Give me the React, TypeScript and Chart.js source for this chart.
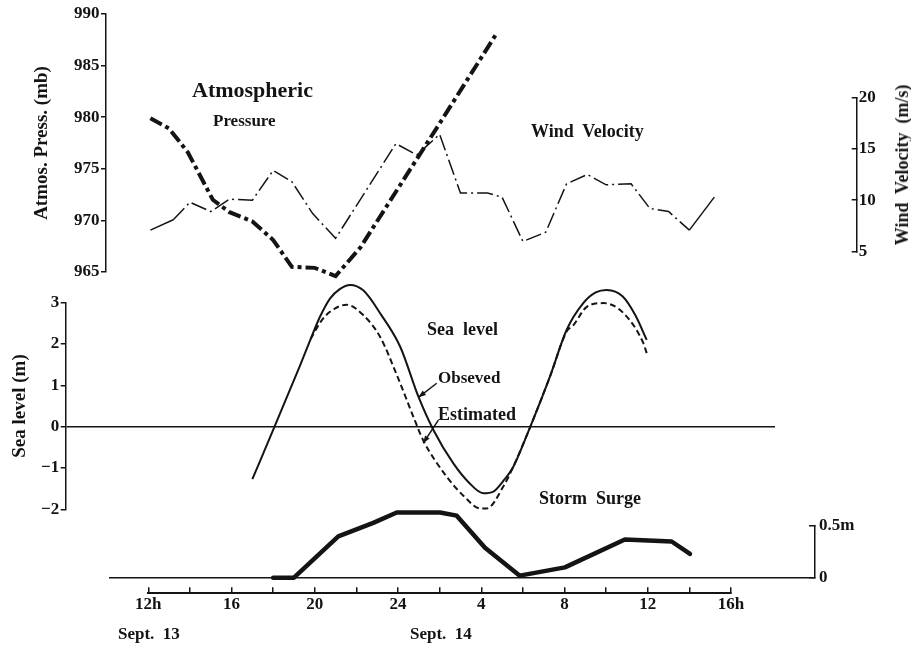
import React, { useEffect, useRef } from 'react';
import { Chart, registerables } from 'chart.js';

Chart.register(...registerables);

// ---------------- data (hours counted from Sept. 13, 00h) ----------------
const pressureHours = [12.1, 13.0, 13.9, 15.1, 15.9, 17.0, 18.0, 18.9, 20.0, 21.0, 22.2, 24.0, 26.0, 28.7];
const pressureMb = [979.9, 978.9, 976.6, 972.0, 970.8, 969.9, 968.1, 965.5, 965.4, 964.6, 967.4, 973.1, 979.4, 988.0];

const windHours = [12.1, 13.2, 14.0, 15.0, 15.9, 17.0, 18.0, 18.9, 19.9, 21.0, 23.9, 24.9, 26.0, 27.0, 28.3, 29.0, 30.0, 31.1, 32.1, 33.1, 34.0, 35.2, 36.1, 37.0, 38.0, 39.2];
const windMs = [7.1, 8.1, 9.8, 8.9, 10.1, 10.0, 12.9, 11.8, 8.7, 6.3, 15.5, 14.4, 16.4, 10.7, 10.7, 10.3, 6.0, 6.9, 11.6, 12.5, 11.5, 11.6, 9.2, 8.9, 7.1, 10.3];

const observedHours = [17.0, 18.0, 19.3, 19.8, 20.25, 20.73, 21.2, 21.7, 22.33, 23.2, 24.1, 25.0, 25.7, 26.66, 27.4, 28.1, 28.58, 29.05, 29.54, 30.26, 31.3, 32.1, 32.9, 33.5, 34.03, 34.8, 35.4, 35.95];
const observedM = [-1.27, -0.08, 1.49, 2.12, 2.66, 3.1, 3.33, 3.43, 3.3, 2.7, 1.94, 0.7, -0.08, -0.89, -1.35, -1.61, -1.57, -1.32, -0.97, -0.12, 1.21, 2.34, 2.99, 3.25, 3.31, 3.15, 2.7, 2.1];

const estimatedHours = [19.8, 20.3, 20.73, 21.53, 22.33, 23.13, 24.0, 24.73, 25.21, 26.34, 27.2, 27.94, 28.26, 29.06, 29.54, 30.26, 31.3, 32.1, 32.42, 33.07, 33.87, 34.83, 35.79, 35.95];
const estimatedM = [2.12, 2.55, 2.78, 2.95, 2.7, 2.18, 1.18, 0.25, -0.33, -1.21, -1.7, -1.98, -1.98, -1.45, -0.97, -0.12, 1.21, 2.3, 2.45, 2.9, 2.99, 2.75, 2.02, 1.78];

const surgeHours = [18.0, 19.0, 21.13, 22.81, 23.94, 26.02, 26.82, 28.18, 29.85, 32.02, 34.9, 37.15, 38.03];
const surgeM = [0, 0, 0.4, 0.53, 0.63, 0.63, 0.6, 0.29, 0.02, 0.1, 0.37, 0.35, 0.23];

// pointer arrows (from label to curve), in hours / metres
const arrowFromHours = [25.86, 25.94];
const arrowFromM = [1.05, 0.16];
const arrowToHours = [24.98, 25.21];
const arrowToM = [0.71, -0.4];

// axis ranges / ticks
const pressureRange = [965, 990];
const windRange = [5, 20];
const seaRange = [-2, 3];
const surgeRange = [0, 0.5];
const hourRange = [12, 40];

// ---------------- layout ----------------
const CW = 911;
const CH = 647;
const X0_PX = 148.3;
const PX_PER_HOUR = 20.81;
const X0_HOUR = 12;
const INK = '#141414';
const FONT = "'Liberation Serif', 'Times New Roman', serif";

Chart.defaults.font.family = FONT;
Chart.defaults.color = INK;

type Area = { left: number; right: number; top: number; bottom: number };

const hourAt = (px: number) => X0_HOUR + (px - X0_PX) / PX_PER_HOUR;
const pts = (xs: number[], ys: number[]) => xs.map((x, i) => ({ x, y: ys[i] }));

function baseOptions(area: Area, yPos: 'left' | 'right', yWidth: number, xHeight: number) {
  return {
    responsive: false,
    animation: false,
    events: [],
    layout: {
      autoPadding: false,
      padding: {
        left: yPos === 'left' ? area.left - yWidth : area.left,
        right: CW - area.right - (yPos === 'right' ? yWidth : 0),
        top: area.top,
        bottom: CH - area.bottom - xHeight,
      },
    },
    plugins: { legend: { display: false }, tooltip: { enabled: false }, title: { display: false } },
  };
}

const hiddenX = (area: Area) => ({
  type: 'linear',
  display: false,
  min: hourAt(area.left),
  max: hourAt(area.right),
});

const tickFont = { size: 17, weight: 'bold' as const };

function pressureConfig(): any {
  const area = { left: 106, right: 700, top: 14, bottom: 272 };
  const w = 75.4;
  return {
    type: 'line',
    data: {
      datasets: [
        {
          data: pts(pressureHours, pressureMb),
          borderColor: INK,
          borderWidth: 4,
          borderDash: [13, 4, 4, 4],
          pointRadius: 0,
          clip: false,
        },
      ],
    },
    options: {
      ...baseOptions(area, 'left', w, 0),
      scales: {
        x: hiddenX(area),
        y: {
          type: 'linear',
          position: 'left',
          min: pressureRange[0],
          max: pressureRange[1],
          ticks: { stepSize: 5, padding: 1.5, font: tickFont, color: INK },
          grid: { drawOnChartArea: false, drawTicks: true, tickLength: 5, color: INK, lineWidth: 1.5 },
          border: { display: true, color: INK, width: 1.5 },
          title: { display: true, text: 'Atmos. Press. (mb)', font: { size: 19, weight: 'bold' }, padding: 0, color: INK },
          afterFit: (s: any) => { s.width = w; },
        },
      },
    },
  };
}

function windConfig(): any {
  const area = { left: 140, right: 856.7, top: 97.3, bottom: 251.7 };
  const w = 40;
  const last = windHours.length - 1;
  return {
    type: 'line',
    data: {
      datasets: [
        {
          data: pts(windHours, windMs),
          borderColor: INK,
          borderWidth: 1.5,
          borderDash: [16, 4, 2, 4],
          pointRadius: 0,
          clip: false,
          segment: {
            borderDash: (c: any) => (c.p0DataIndex === 0 || c.p1DataIndex === last ? [] : undefined),
          },
        },
      ],
    },
    options: {
      ...baseOptions(area, 'right', w, 0),
      scales: {
        x: hiddenX(area),
        y: {
          type: 'linear',
          position: 'right',
          min: windRange[0],
          max: windRange[1],
          ticks: { stepSize: 5, padding: 7, font: tickFont, color: INK },
          grid: { drawOnChartArea: false, drawTicks: true, tickLength: -5, color: INK, lineWidth: 1.5 },
          border: { display: true, color: INK, width: 1.5 },
          afterFit: (s: any) => { s.width = w; },
        },
      },
    },
  };
}

const arrowPlugin = {
  id: 'pointerArrows',
  afterDatasetsDraw(chart: any) {
    const { ctx, scales } = chart;
    const xs = scales.x;
    const ys = scales.y;
    ctx.save();
    ctx.strokeStyle = INK;
    ctx.fillStyle = INK;
    ctx.lineWidth = 1.5;
    arrowFromHours.forEach((h, i) => {
      const x1 = xs.getPixelForValue(h);
      const y1 = ys.getPixelForValue(arrowFromM[i]);
      const x2 = xs.getPixelForValue(arrowToHours[i]);
      const y2 = ys.getPixelForValue(arrowToM[i]);
      const ang = Math.atan2(y2 - y1, x2 - x1);
      ctx.beginPath();
      ctx.moveTo(x1, y1);
      ctx.lineTo(x2, y2);
      ctx.stroke();
      const L = 8;
      const spread = 0.35;
      ctx.beginPath();
      ctx.moveTo(x2, y2);
      ctx.lineTo(x2 - L * Math.cos(ang - spread), y2 - L * Math.sin(ang - spread));
      ctx.lineTo(x2 - L * Math.cos(ang + spread), y2 - L * Math.sin(ang + spread));
      ctx.closePath();
      ctx.fill();
    });
    ctx.restore();
  },
};

function seaConfig(): any {
  const area = { left: 65.7, right: 775, top: 302.7, bottom: 509.3 };
  const w = 57.1;
  return {
    type: 'line',
    data: {
      datasets: [
        {
          data: pts(observedHours, observedM),
          borderColor: INK,
          borderWidth: 2,
          pointRadius: 0,
          cubicInterpolationMode: 'monotone',
          clip: false,
        },
        {
          data: pts(estimatedHours, estimatedM),
          borderColor: INK,
          borderWidth: 2,
          borderDash: [6, 3.5],
          pointRadius: 0,
          cubicInterpolationMode: 'monotone',
          clip: false,
        },
      ],
    },
    plugins: [arrowPlugin],
    options: {
      ...baseOptions(area, 'left', w, 0),
      scales: {
        x: hiddenX(area),
        y: {
          type: 'linear',
          position: 'left',
          min: seaRange[0],
          max: seaRange[1],
          ticks: {
            stepSize: 1,
            padding: 1.5,
            font: tickFont,
            color: INK,
            callback: (v: number) => (v < 0 ? '\u2212' + Math.abs(v) : String(v)),
          },
          grid: {
            drawOnChartArea: true,
            drawTicks: true,
            tickLength: 5,
            color: (c: any) => (c.tick && c.tick.value === 0 ? INK : 'rgba(0,0,0,0)'),
            tickColor: INK,
            lineWidth: 1.5,
          },
          border: { display: true, color: INK, width: 1.5 },
          title: { display: true, text: 'Sea level (m)', font: { size: 19, weight: 'bold' }, padding: 0, color: INK },
          afterFit: (s: any) => { s.width = w; },
        },
      },
    },
  };
}

function surgeConfig(): any {
  const area = { left: 109, right: 815, top: 526, bottom: 577.7 };
  const w = 60;
  return {
    type: 'line',
    data: {
      datasets: [
        {
          data: pts(surgeHours, surgeM),
          borderColor: INK,
          borderWidth: 4.5,
          borderJoinStyle: 'round',
          borderCapStyle: 'round',
          pointRadius: 0,
          clip: false,
        },
      ],
    },
    options: {
      ...baseOptions(area, 'right', w, 0),
      scales: {
        x: hiddenX(area),
        y: {
          type: 'linear',
          position: 'right',
          min: surgeRange[0],
          max: surgeRange[1],
          ticks: {
            stepSize: 0.5,
            padding: 10,
            font: tickFont,
            color: INK,
            callback: (v: number) => (v === 0.5 ? '0.5m' : v === 0 ? '0' : ''),
          },
          grid: {
            drawOnChartArea: true,
            drawTicks: true,
            tickLength: -6,
            color: (c: any) => (c.tick && c.tick.value === 0 ? INK : 'rgba(0,0,0,0)'),
            tickColor: INK,
            lineWidth: 1.5,
          },
          border: { display: true, color: INK, width: 1.5 },
          afterFit: (s: any) => { s.width = w; },
        },
      },
    },
  };
}

function hourLabel(v: number): string {
  if (v % 4 !== 0) return '';
  if (v === hourRange[0]) return `${v}h`;
  if (v === hourRange[1]) return `${v - 24}h`;
  return String(v > 24 ? v - 24 : v);
}

function axisConfig(): any {
  const area = { left: X0_PX, right: X0_PX + PX_PER_HOUR * (hourRange[1] - hourRange[0]), top: 560, bottom: 593.3 };
  const h = 40;
  return {
    type: 'line',
    data: { datasets: [] },
    options: {
      ...baseOptions(area, 'left', 0, h),
      scales: {
        x: {
          type: 'linear',
          position: 'bottom',
          min: hourRange[0],
          max: hourRange[1],
          ticks: {
            stepSize: 2,
            autoSkip: false,
            maxRotation: 0,
            padding: 7.5,
            font: tickFont,
            color: INK,
            callback: (v: number) => hourLabel(v),
          },
          grid: { drawOnChartArea: false, drawTicks: true, tickLength: -6, color: INK, lineWidth: 1.5 },
          border: { display: true, color: INK, width: 2 },
          afterFit: (s: any) => { s.height = h; },
        },
        y: { type: 'linear', display: false, min: 0, max: 1, afterFit: (s: any) => { s.width = 0; } },
      },
    },
  };
}

const textBase: React.CSSProperties = {
  position: 'absolute',
  fontFamily: FONT,
  fontWeight: 'bold',
  color: INK,
  whiteSpace: 'pre',
  lineHeight: 1,
};

const labels: { text: string; left: number; top: number; size: number }[] = [
  { text: 'Atmospheric', left: 192, top: 79, size: 22 },
  { text: 'Pressure', left: 213, top: 112, size: 17 },
  { text: 'Wind  Velocity', left: 531, top: 122, size: 18 },
  { text: 'Sea  level', left: 427, top: 320, size: 18 },
  { text: 'Obseved', left: 438, top: 369, size: 17 },
  { text: 'Estimated', left: 438, top: 405, size: 18 },
  { text: 'Storm  Surge', left: 539, top: 489, size: 18 },
  { text: 'Sept.  13', left: 118, top: 625, size: 17 },
  { text: 'Sept.  14', left: 410, top: 625, size: 17 },
];

export default function App() {
  const r0 = useRef<HTMLCanvasElement>(null);
  const r1 = useRef<HTMLCanvasElement>(null);
  const r2 = useRef<HTMLCanvasElement>(null);
  const r3 = useRef<HTMLCanvasElement>(null);
  const r4 = useRef<HTMLCanvasElement>(null);
  const refs = [r0, r1, r2, r3, r4];

  useEffect(() => {
    const cfgs = [pressureConfig(), windConfig(), seaConfig(), surgeConfig(), axisConfig()];
    const charts = cfgs.map((cfg, i) => new Chart(refs[i].current as HTMLCanvasElement, cfg));
    return () => charts.forEach((c) => c.destroy());
  }, []);

  return (
    <div style={{ position: 'fixed', left: 0, top: 0, width: CW, height: CH, background: '#ffffff', overflow: 'hidden' }}>
      {refs.map((r, i) => (
        <canvas key={i} ref={r} width={CW} height={CH} style={{ position: 'absolute', left: 0, top: 0 }} />
      ))}
      {labels.map((l) => (
        <div key={l.text} style={{ ...textBase, left: l.left, top: l.top, fontSize: l.size }}>
          {l.text}
        </div>
      ))}
      <div
        style={{
          ...textBase,
          left: 902,
          top: 165,
          fontSize: 18,
          transform: 'translate(-50%, -50%) rotate(-90deg)',
        }}
      >
        {'Wind  Velocity  (m/s)'}
      </div>
    </div>
  );
}
